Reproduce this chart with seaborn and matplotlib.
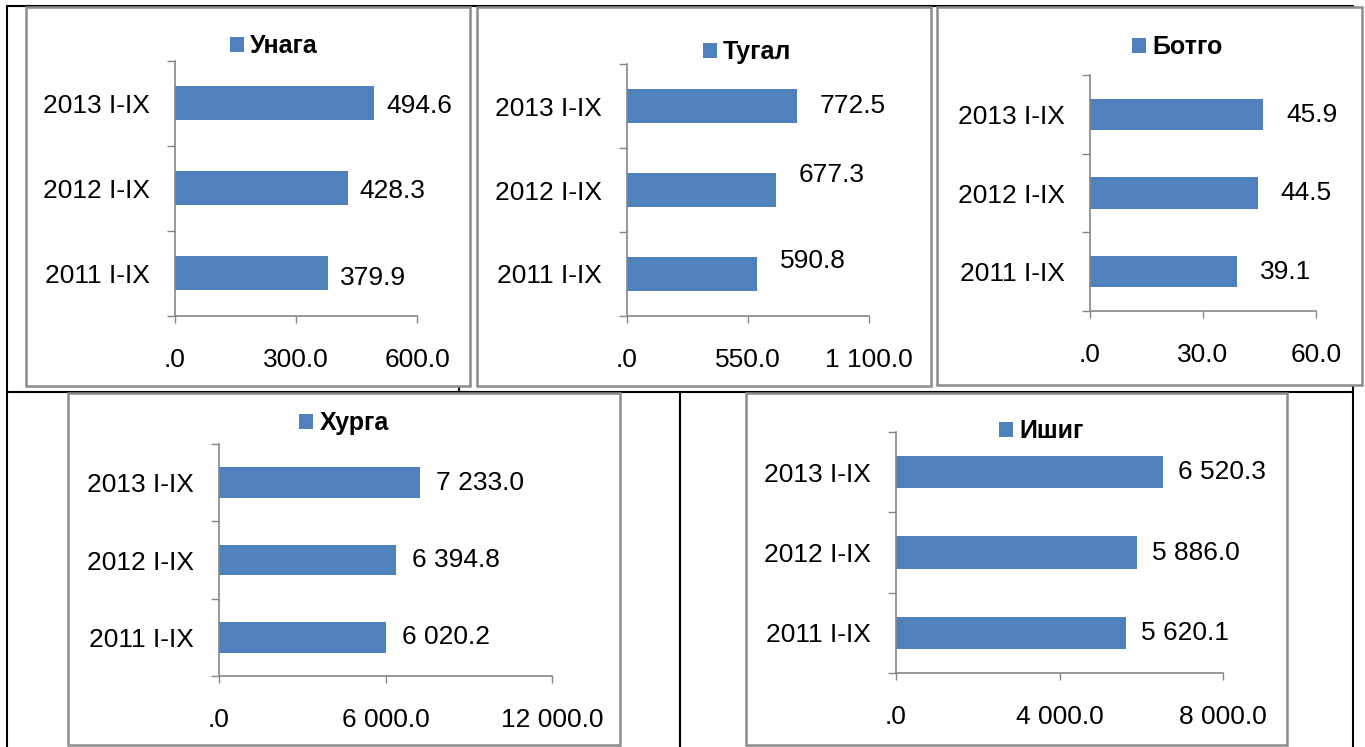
import matplotlib

matplotlib.use('Agg')
import matplotlib.pyplot as plt
from matplotlib.patches import Rectangle, Patch
from matplotlib.lines import Line2D
from matplotlib.ticker import FuncFormatter
import seaborn as sns
import pandas as pd

# data
periods = ['2013 I-IX', '2012 I-IX', '2011 I-IX']
names = ['Унага', 'Тугал', 'Ботго', 'Хурга', 'Ишиг']
unaga = [494.6, 428.3, 379.9]
tugal = [772.5, 677.3, 590.8]
botgo = [45.9, 44.5, 39.1]
khurga = [7233.0, 6394.8, 6020.2]
ishig = [6520.3, 5886.0, 5620.1]
x_max = [600, 1100, 60, 12000, 8000]

W, H = 1365, 747
BLUE = '#4F81BD'
GREY = '#868686'
BOX = '#8c8c8c'

sns.set_theme(style='ticks')
plt.rcParams['font.family'] = ['Liberation Sans', 'DejaVu Sans']
plt.rcParams['text.color'] = 'black'


def fmt(v, pos=None):
    s = '{:,.1f}'.format(v).replace(',', ' ')
    if s.startswith('0'):
        s = s[1:]
    return s


def px_rect(l, t, r, b):
    return [l / W, 1 - b / H, (r - l) / W, (b - t) / H]


# layout in pixels: axes box, frame box, legend centre, label offsets (dx, dy list)
layout = [
    dict(axes=(175, 61, 417, 316), frame=(26, 7, 470, 386), leg=(274, 46), dx=12, dy=[3, 3, 5]),
    dict(axes=(627, 64, 869, 316), frame=(477, 7, 931, 386), leg=(747, 52), dx=23, dy=[0, -15, -13]),
    dict(axes=(1090, 75, 1316, 311), frame=(937, 7, 1362, 385), leg=(1177, 47), dx=23, dy=[1, 0, 0]),
    dict(axes=(219, 444, 552, 676), frame=(68, 393, 620, 745), leg=(344, 423), dx=16, dy=[0, 0, 0]),
    dict(axes=(896, 432, 1223, 673), frame=(746, 393, 1287, 745), leg=(1041, 431), dx=15, dy=[0, 0, 0]),
]
series = [unaga, tugal, botgo, khurga, ishig]

fig = plt.figure(figsize=(W / 100, H / 100), dpi=100)

# table grid lines behind the chart frames
grid = [
    ((7, 6), (1353, 6)),
    ((7, 6), (7, 747)),
    ((7, 392), (1353, 392)),
    ((680, 392), (680, 747)),
    ((1353, 6), (1353, 747)),
    ((459, 6), (459, 392)),
]
for (x1, y1), (x2, y2) in grid:
    fig.add_artist(Line2D([x1 / W, x2 / W], [1 - y1 / H, 1 - y2 / H], transform=fig.transFigure,
                          color='black', lw=1.5, zorder=-2))

for name, values, xm, lay in zip(names, series, x_max, layout):
    l, t, r, b = lay['frame']
    fig.add_artist(Rectangle((l / W, 1 - b / H), (r - l) / W, (b - t) / H, transform=fig.transFigure,
                             facecolor='white', edgecolor=BOX, lw=1.8, zorder=-1))

    ax = fig.add_axes(px_rect(*lay['axes']))
    ax.set_facecolor('none')
    df = pd.DataFrame({'period': periods, 'value': values})
    sns.barplot(data=df, x='value', y='period', orient='h', color=BLUE, saturation=1,
                width=0.4, linewidth=0, ax=ax)

    ax.set_xlim(0, xm)
    ax.set_xticks([0, xm / 2, xm])
    ax.xaxis.set_major_formatter(FuncFormatter(fmt))
    ax.set_ylim(2.5, -0.5)
    ax.set_yticks([-0.5, 0.5, 1.5, 2.5], minor=True)
    ax.set_xlabel('')
    ax.set_ylabel('')

    ax.tick_params(axis='y', which='major', length=0, pad=18, labelsize=19, labelcolor='black')
    ax.tick_params(axis='y', which='minor', length=6, width=1, color=GREY, direction='out', left=True)
    ax.tick_params(axis='x', length=5, width=1, color=GREY, direction='out', pad=18,
                   labelsize=19, labelcolor='black', bottom=True)
    sns.despine(ax=ax)
    for side in ['left', 'bottom']:
        ax.spines[side].set_color(GREY)
        ax.spines[side].set_linewidth(1.2)

    for i, v in enumerate(values):
        ax.annotate(fmt(v), xy=(v, i), xytext=(lay['dx'] * 0.72, -lay['dy'][i] * 0.72),
                    textcoords='offset points', ha='left', va='center', fontsize=19,
                    color='black', annotation_clip=False)

    cx, cy = lay['leg']
    handle = Patch(facecolor=BLUE, edgecolor='none', label=name)
    ax.legend(handles=[handle], loc='center', bbox_to_anchor=(cx / W, 1 - cy / H),
              bbox_transform=fig.transFigure, frameon=False,
              prop={'weight': 'bold', 'size': 18}, handlelength=0.56, handleheight=0.56,
              handletextpad=0.25, borderaxespad=0, borderpad=0, labelcolor='black')

plt.savefig('out.png', dpi=100)
plt.close()
